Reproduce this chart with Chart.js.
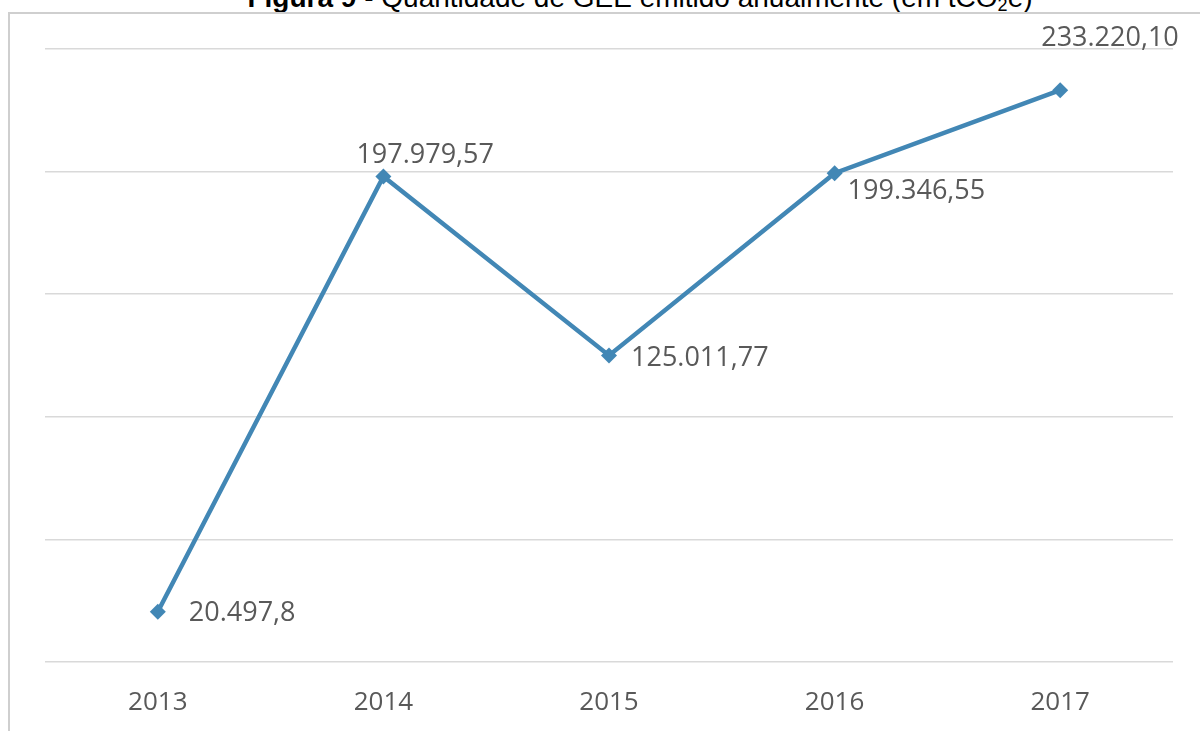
<!DOCTYPE html>
<html>
<head>
<meta charset="utf-8">
<script src="https://cdn.jsdelivr.net/npm/chart.js@4.4.1/dist/chart.umd.min.js"></script>
<style>
    html, body { margin: 0; padding: 0; background: #ffffff; overflow: hidden; }
    #wrap { position: relative; width: 1200px; height: 731px; }
    #titulo {
        position: absolute; left: 40px; width: 1200px; top: -16px;
        text-align: center; font-family: "Liberation Sans", Arial, sans-serif;
        font-size: 28px; line-height: 28px; color: #000; white-space: nowrap;
    }
    #titulo sub { font-size: 18px; vertical-align: -4px; line-height: 0; }
    #moldura {
        position: absolute; left: 8px; top: 12px; width: 1300px; height: 800px;
        border-left: 2px solid #cfcfcf; border-top: 2px solid #cfcfcf;
    }
    #grafico { position: absolute; left: 0; top: 0; }
</style>
</head>
<body>
<div id="wrap">
    <div id="titulo"><b>Figura 9</b> - Quantidade de GEE emitido anualmente (em tCO<sub>2</sub>e)</div>
    <div id="moldura"></div>
    <canvas id="grafico" width="1200" height="731"></canvas>
</div>
<script>
const anos = ["2013", "2014", "2015", "2016", "2017"];
const emissoes = [20497.8, 197979.57, 125011.77, 199346.55, 233220.10];
const rotulos = ["20.497,8", "197.979,57", "125.011,77", "199.346,55", "233.220,10"];

// onde cada rotulo fica em relacao ao ponto (dx, dy)
const posRotulos = [
    { dx: 31, dy: 2 },
    { dx: -27, dy: -21 },
    { dx: 22, dy: 3 },
    { dx: 13, dy: 18 },
    { dx: -19, dy: -52 },
];

const rotuloPlugin = {
    id: "rotulos",
    afterDatasetsDraw(chart) {
        const ctx = chart.ctx;
        const meta = chart.getDatasetMeta(0);
        ctx.save();
        ctx.font = "27px 'Open Sans'";
        ctx.fillStyle = "#595959";
        ctx.textAlign = "left";
        ctx.textBaseline = "middle";
        meta.data.forEach((pt, i) => {
            const p = posRotulos[i];
            ctx.fillText(rotulos[i], pt.x + p.dx, pt.y + p.dy);
        });
        ctx.restore();
    },
};

const canvas = document.getElementById("grafico");

new Chart(canvas.getContext("2d"), {
    type: "line",
    data: {
        labels: anos,
        datasets: [
            {
                data: emissoes,
                borderColor: "#4287b5",
                backgroundColor: "#4287b5",
                borderWidth: 4.5,
                pointStyle: "rectRot",
                pointRadius: 8,
                pointBorderWidth: 0,
                tension: 0,
            },
        ],
    },
    options: {
        responsive: false,
        animation: false,
        layout: {
            padding: { left: 45, right: 27, top: 49, bottom: 18 },
        },
        plugins: {
            legend: { display: false },
            tooltip: { enabled: false },
        },
        scales: {
            x: {
                offset: true,
                grid: { display: false, drawTicks: false },
                border: { display: false },
                ticks: {
                    color: "#595959",
                    padding: 25,
                    maxRotation: 0,
                    font: { family: "'Open Sans'", size: 26 },
                },
                afterFit: (scale) => {
                    scale.height = 51;
                },
            },
            y: {
                min: 0,
                max: 250000,
                ticks: { display: false, stepSize: 50000 },
                grid: { color: "#d9d9d9", lineWidth: 1.5, drawTicks: false },
                border: { display: false },
            },
        },
    },
    plugins: [rotuloPlugin],
});
</script>
</body>
</html>
